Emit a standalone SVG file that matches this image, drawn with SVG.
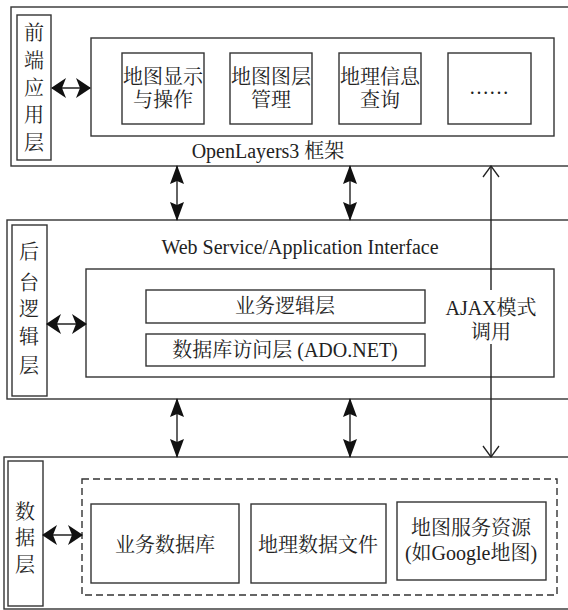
<svg xmlns="http://www.w3.org/2000/svg" width="568" height="610" viewBox="0 0 568 610">
  <style>
    .box { fill: #fff; stroke: #333; stroke-width: 1.4; }
    .dash { fill: none; stroke: #333; stroke-width: 1.4; stroke-dasharray: 7 4; }
    .t { font-family: "Liberation Serif", "Noto Serif CJK SC", "Noto Sans CJK SC", serif; fill: #222; text-anchor: middle; }
    .lat { font-family: "Liberation Serif", serif; }
    .cn { font-size: 20px; }
    .en { font-size: 20px; }
    .conn { stroke: #222; stroke-width: 1.4; fill: none; }
  </style>
  <defs>
    <marker id="bigHead" markerUnits="userSpaceOnUse" viewBox="0 -8 19 16" refX="18" refY="0" markerWidth="19" markerHeight="16" orient="auto-start-reverse">
      <path d="M0,-7 L19,0 L0,7 L3,0 Z" fill="#111"/>
    </marker>
    <marker id="sideHead" markerUnits="userSpaceOnUse" viewBox="0 -11 15 22" refX="14" refY="0" markerWidth="15" markerHeight="22" orient="auto-start-reverse">
      <path d="M0,-10 L15,0 L0,10 L4,0 Z" fill="#111"/>
    </marker>
    <marker id="openHead" markerUnits="userSpaceOnUse" viewBox="-1 -9 13 18" refX="11" refY="0" markerWidth="13" markerHeight="18" orient="auto-start-reverse">
      <path d="M0,-8 L11,0 L0,8" fill="none" stroke="#222" stroke-width="1.3"/>
    </marker>
  </defs>

  <!-- front-end layer -->
  <g id="frontend">
    <rect class="box" x="11" y="7" width="562" height="159"/>
    <rect class="box" x="17" y="15" width="34" height="145"/>
    <text class="t cn" x="34" y="40">前</text>
    <text class="t cn" x="34" y="68">端</text>
    <text class="t cn" x="34" y="95">应</text>
    <text class="t cn" x="34" y="122">用</text>
    <text class="t cn" x="34" y="150">层</text>
    <rect class="box" x="91" y="38" width="463" height="98"/>
    <text class="t en" x="268" y="158"><tspan class="lat">OpenLayers3 </tspan>框架</text>
  </g>
  <g id="map-display">
    <rect class="box" x="122" y="53" width="82" height="71"/>
    <text class="t cn" x="163" y="84">地图显示</text>
    <text class="t cn" x="163" y="107">与操作</text>
  </g>
  <g id="map-layers">
    <rect class="box" x="230" y="53" width="82" height="71"/>
    <text class="t cn" x="271" y="84">地图图层</text>
    <text class="t cn" x="271" y="107">管理</text>
  </g>
  <g id="geo-query">
    <rect class="box" x="339" y="53" width="82" height="71"/>
    <text class="t cn" x="380" y="84">地理信息</text>
    <text class="t cn" x="380" y="107">查询</text>
  </g>
  <g id="more">
    <rect class="box" x="448" y="53" width="83" height="71"/>
    <text class="t cn" x="489" y="94">……</text>
  </g>

  <!-- back-end logic layer -->
  <g id="backend">
    <rect class="box" x="7" y="220" width="566" height="179"/>
    <rect class="box" x="12" y="225" width="35" height="171"/>
    <text class="t cn" x="29" y="259">后</text>
    <text class="t cn" x="29" y="290">台</text>
    <text class="t cn" x="29" y="316">逻</text>
    <text class="t cn" x="29" y="344">辑</text>
    <text class="t cn" x="29" y="373">层</text>
    <text class="t en lat" x="300" y="254">Web Service/Application Interface</text>
    <rect class="box" x="86" y="269" width="468" height="108"/>
  </g>
  <g id="business-logic">
    <rect class="box" x="146" y="290" width="279" height="33"/>
    <text class="t cn" x="285" y="313">业务逻辑层</text>
  </g>
  <g id="data-access">
    <rect class="box" x="146" y="334" width="279" height="32"/>
    <text class="t cn" x="285" y="357">数据库访问层<tspan class="lat"> (ADO.NET)</tspan></text>
  </g>
  <g id="ajax-label">
    <text class="t cn" x="491" y="315"><tspan class="lat">AJAX</tspan>模式</text>
    <text class="t cn" x="491" y="339">调用</text>
  </g>

  <!-- data layer -->
  <g id="data">
    <rect class="box" x="4" y="457" width="569" height="152"/>
    <rect class="box" x="8" y="461" width="35" height="145"/>
    <text class="t cn" x="25" y="519">数</text>
    <text class="t cn" x="25" y="545">据</text>
    <text class="t cn" x="25" y="572">层</text>
    <rect class="dash" x="82" y="479" width="475" height="116"/>
  </g>
  <g id="business-db">
    <rect class="box" x="91" y="504" width="148" height="79"/>
    <text class="t cn" x="165" y="552">业务数据库</text>
  </g>
  <g id="geo-files">
    <rect class="box" x="251" y="504" width="135" height="79"/>
    <text class="t cn" x="318" y="552">地理数据文件</text>
  </g>
  <g id="map-service">
    <rect class="box" x="397" y="502" width="149" height="78"/>
    <text class="t cn" x="471" y="535">地图服务资源</text>
    <text class="t cn" x="471" y="560"><tspan class="lat">(</tspan>如<tspan class="lat">Google</tspan>地图<tspan class="lat">)</tspan></text>
  </g>

  <!-- connectors -->
  <g id="connectors">
    <line class="conn" x1="52" y1="88" x2="90" y2="88" marker-start="url(#sideHead)" marker-end="url(#sideHead)"/>
    <line class="conn" x1="47" y1="324" x2="86" y2="324" marker-start="url(#sideHead)" marker-end="url(#sideHead)"/>
    <line class="conn" x1="43" y1="535" x2="82" y2="535" marker-start="url(#sideHead)" marker-end="url(#sideHead)"/>
    <line class="conn" x1="177" y1="166" x2="177" y2="220" marker-start="url(#bigHead)" marker-end="url(#bigHead)"/>
    <line class="conn" x1="350" y1="166" x2="350" y2="220" marker-start="url(#bigHead)" marker-end="url(#bigHead)"/>
    <line class="conn" x1="177" y1="399" x2="177" y2="457" marker-start="url(#bigHead)" marker-end="url(#bigHead)"/>
    <line class="conn" x1="350" y1="399" x2="350" y2="457" marker-start="url(#bigHead)" marker-end="url(#bigHead)"/>
    <path class="conn" d="M491,166 V290" marker-start="url(#openHead)"/>
    <path class="conn" d="M491,344 V457" marker-end="url(#openHead)"/>
  </g>
</svg>
